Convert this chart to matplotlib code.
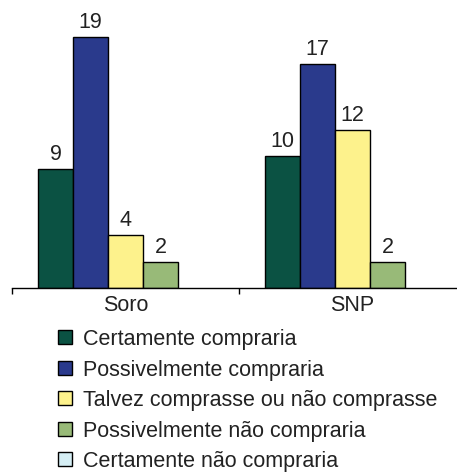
import matplotlib
matplotlib.use("Agg")
import matplotlib.pyplot as plt
import numpy as np
from matplotlib.patches import Rectangle

plt.rcParams['font.family'] = ['Liberation Sans', 'DejaVu Sans']

categories = ["Soro", "SNP"]
series_names = ["Certamente compraria", "Possivelmente compraria",
                "Talvez comprasse ou não comprasse", "Possivelmente não compraria",
                "Certamente não compraria"]
values = [
    [9, 10],
    [19, 17],
    [4, 12],
    [2, 2],
    [0, 0],
]
colors = ["#0B5243", "#2A3A8C", "#FDF28C", "#98BA78", "#D5EEF4"]

W, H = 457, 473
fig = plt.figure(figsize=(W / 100, H / 100), dpi=100)
ax_left = 12 / W
ax_bottom = (H - 288) / H
ax = fig.add_axes([ax_left, ax_bottom, 1 - ax_left, 1 - ax_bottom])

cat_w = 227.0
x = np.arange(len(categories))
bw = 35.0 / cat_w
n = len(series_names)
txt_color = "#222222"
FS = 15.5
for i, (name, vals, c) in enumerate(zip(series_names, values, colors)):
    pos = x - n * bw / 2 + bw * (i + 0.5)
    lws = [1.0 if v > 0 else 0.0 for v in vals]
    bars = ax.bar(pos, vals, width=bw, color=c, edgecolor="black", linewidth=lws, label=name)
    for b, v in zip(bars, vals):
        if v > 0:
            ax.text(b.get_x() + b.get_width() / 2, v + 0.3, str(v), ha="center", va="bottom",
                    fontsize=FS, color=txt_color)

ax.set_xlim(-0.5, -0.5 + (W - 12) / cat_w)
ax.set_ylim(0, 288 / 13.2)
for s in ["left", "top", "right"]:
    ax.spines[s].set_visible(False)
ax.spines["bottom"].set_linewidth(1.0)
ax.set_yticks([])
ax.set_xticks(x)
ax.set_xticklabels(categories, fontsize=FS, color=txt_color)
ax.tick_params(axis="x", which="major", length=0, pad=5)
ax.set_xticks([-0.5, 0.5], minor=True)
ax.tick_params(axis="x", which="minor", length=4, width=1, direction="out")

# legend (manual layout)
for i, (name, c) in enumerate(zip(series_names, colors)):
    yc = 337 + 30.5 * i
    fig.patches.append(Rectangle((58 / W, 1 - (yc + 7) / H), 14 / W, 14 / H,
                                 transform=fig.transFigure, facecolor=c,
                                 edgecolor="black", linewidth=1.0))
    fig.text(83 / W, 1 - yc / H, name, fontsize=FS, color=txt_color,
             ha="left", va="center_baseline")

fig.savefig("out.png", dpi=100)
